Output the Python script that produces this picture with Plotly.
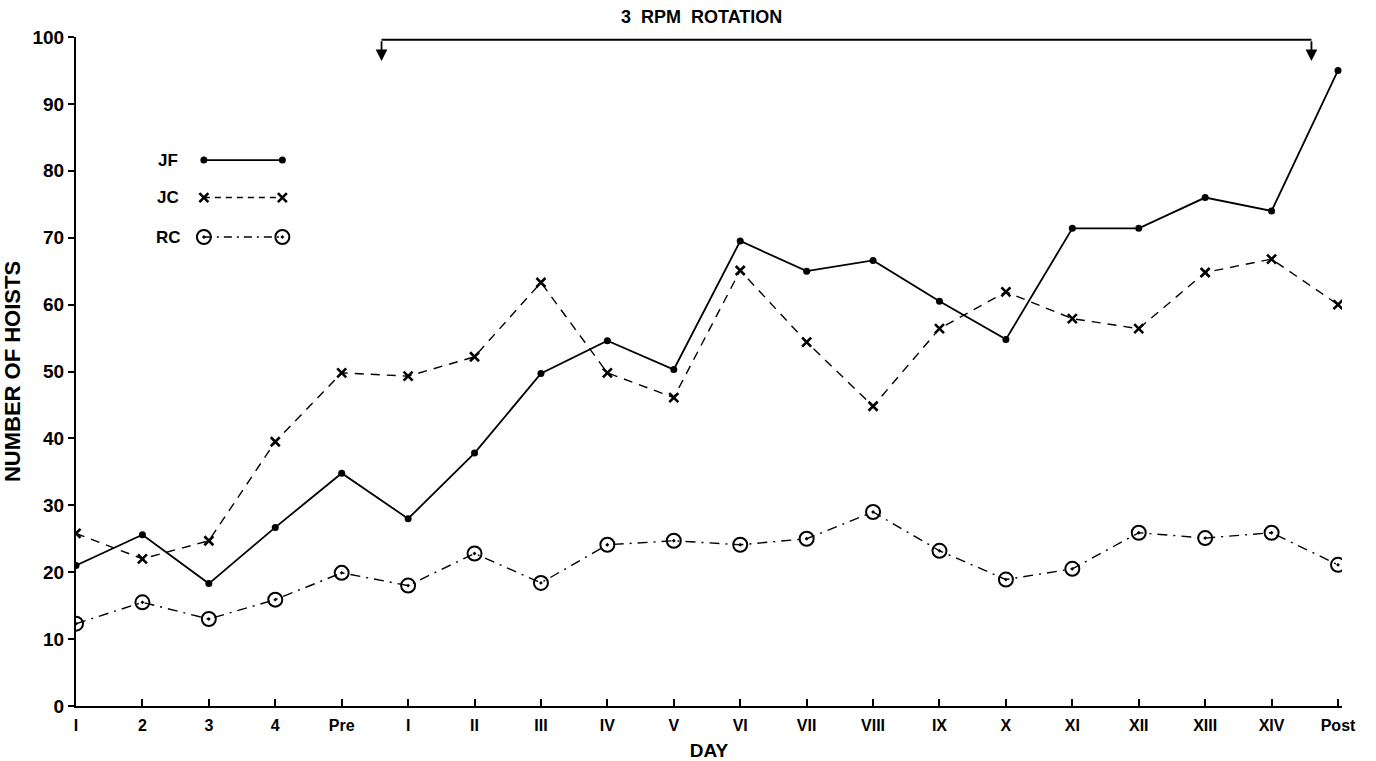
import plotly.graph_objects as go

days = ["I", "2", "3", "4", "Pre", "I", "II", "III", "IV", "V", "VI", "VII",
        "VIII", "IX", "X", "XI", "XII", "XIII", "XIV", "Post"]
jf = [21.0, 25.6, 18.3, 26.7, 34.8, 28.0, 37.8, 49.7, 54.6, 50.3, 69.5, 65.0,
      66.6, 60.5, 54.8, 71.4, 71.4, 76.0, 74.0, 95.0]
jc = [25.8, 22.0, 24.7, 39.5, 49.8, 49.3, 52.2, 63.3, 49.8, 46.1, 65.1, 54.4,
      44.8, 56.4, 61.9, 57.9, 56.4, 64.8, 66.8, 60.0]
rc = [12.3, 15.5, 13.0, 15.9, 19.9, 18.0, 22.8, 18.4, 24.1, 24.7, 24.1, 25.0,
      29.0, 23.2, 18.9, 20.5, 25.9, 25.1, 25.9, 21.1]
yticks = [0, 10, 20, 30, 40, 50, 60, 70, 80, 90, 100]
ytick_text = ["0", "10", "20", "30", "40", "50", "60", "70", "80", "90", "100"]

xs = list(range(len(days)))
FONT = "Liberation Sans"

fig = go.Figure()
fig.add_trace(go.Scatter(x=xs, y=jf, mode="lines+markers", name="JF",
                         line=dict(color="black", width=1.8),
                         marker=dict(symbol="circle", size=7, color="black")))
fig.add_trace(go.Scatter(x=xs, y=jc, mode="lines+markers", name="JC",
                         line=dict(color="black", width=1.4, dash="9px,7px"),
                         marker=dict(symbol="x-thin", size=9,
                                     line=dict(color="black", width=2.6))))
fig.add_trace(go.Scatter(x=xs, y=rc, mode="lines+markers", name="RC",
                         line=dict(color="black", width=1.4, dash="10px,6px,2px,6px"),
                         marker=dict(symbol="circle-open-dot", size=14,
                                     color="black", line=dict(color="black", width=2))))

# custom legend on an overlay axis (0..1 box)
leg_y = [0.816, 0.760, 0.701]
leg_names = ["JF", "JC", "RC"]
styles = [
    dict(line=dict(color="black", width=1.8),
         marker=dict(symbol="circle", size=7, color="black")),
    dict(line=dict(color="black", width=1.4, dash="6px,5px"),
         marker=dict(symbol="x-thin", size=9, line=dict(color="black", width=2.6))),
    dict(line=dict(color="black", width=1.4, dash="8px,5px,2px,5px"),
         marker=dict(symbol="circle-open-dot", size=14, color="black",
                     line=dict(color="black", width=2))),
]
for yy, nm, st in zip(leg_y, leg_names, styles):
    fig.add_trace(go.Scatter(x=[0.101, 0.163], y=[yy, yy], mode="lines+markers",
                             xaxis="x2", yaxis="y2", showlegend=False,
                             hoverinfo="skip", **st))
    fig.add_annotation(x=0.073, y=yy, xref="x2", yref="y2", text="<b>" + nm + "</b>",
                       showarrow=False, font=dict(family=FONT, size=17, color="black"))

# rotation bracket
x_start, x_end, y_top, y_tip = 4.6, 18.6, 99.6, 96.4
fig.add_shape(type="line", x0=x_start, x1=x_end, y0=y_top, y1=y_top,
              xref="x", yref="y", line=dict(color="black", width=2))
for xv in (x_start, x_end):
    fig.add_annotation(x=xv, y=y_tip, ax=xv, ay=y_top, xref="x", yref="y",
                       axref="x", ayref="y", text="", showarrow=True,
                       arrowhead=2, arrowsize=1.3, arrowwidth=1.8, arrowcolor="black")

fig.add_annotation(x=0.494, y=1.03, xref="paper", yref="paper", yanchor="middle",
                   text="<b>3  RPM  ROTATION</b>", showarrow=False,
                   font=dict(family=FONT, size=18, color="black"))

fig.update_layout(
    width=1376, height=761,
    margin=dict(l=76, r=34, t=37, b=55),
    paper_bgcolor="white", plot_bgcolor="white",
    showlegend=False,
    xaxis=dict(range=[0, 19.06], tickvals=xs, ticktext=["<b>%s</b>" % d for d in days],
               automargin=False,
               showgrid=False, zeroline=False, showline=True, linecolor="black",
               linewidth=2, ticks="inside", ticklen=7, tickcolor="black", tickwidth=1.5,
               ticklabelstandoff=4,
               tickfont=dict(family=FONT, size=16, color="black"),
               title=dict(text="<b>DAY</b>", font=dict(family=FONT, size=19, color="black"),
                          standoff=10)),
    yaxis=dict(range=[0, 100], tickvals=yticks, ticktext=["<b>%s</b>" % t for t in ytick_text],
               automargin=False,
               showgrid=False, zeroline=False, showline=True, linecolor="black",
               linewidth=2, ticks="outside", ticklen=6, tickcolor="black", tickwidth=1.5,
               tickfont=dict(family=FONT, size=19, color="black"),
               title=dict(text="<b>NUMBER OF HOISTS</b>",
                          font=dict(family=FONT, size=22, color="black"), standoff=12)),
    xaxis2=dict(overlaying="x", range=[0, 1], visible=False),
    yaxis2=dict(overlaying="y", range=[0, 1], visible=False),
)

fig.write_html("out.html", config={"displayModeBar": False},
               post_script="document.body.style.margin='0px';document.body.style.overflow='hidden';")
